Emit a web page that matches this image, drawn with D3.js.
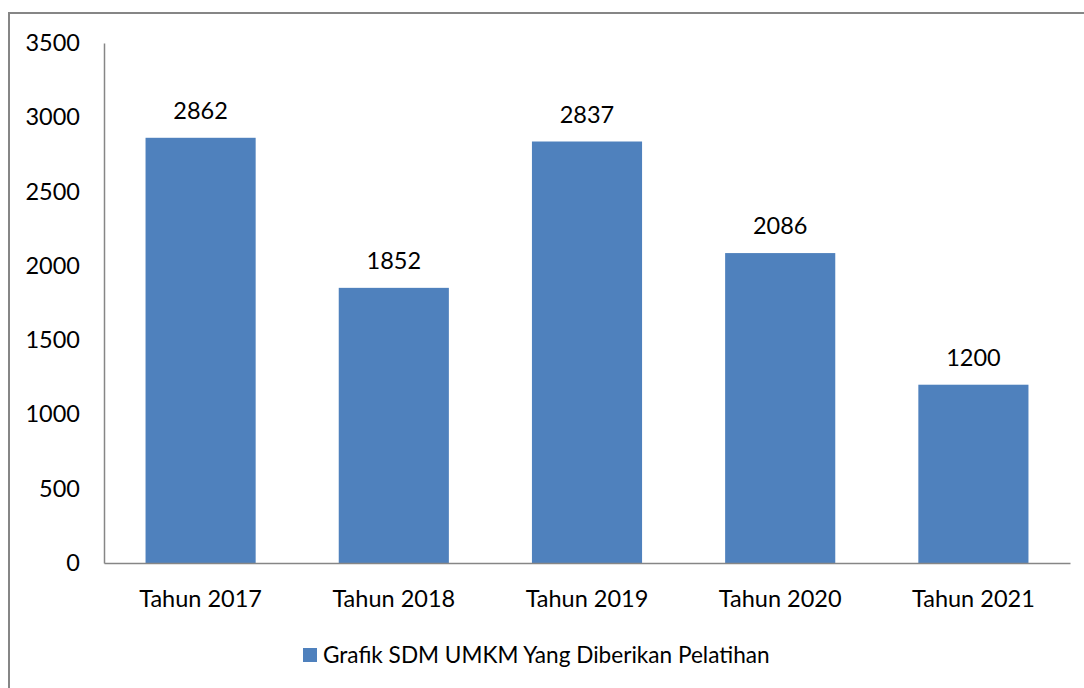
<!DOCTYPE html>
<html>
<head>
<meta charset="utf-8">
<script src="https://cdn.jsdelivr.net/npm/d3@7"></script>
<style>
  body { margin: 0; background: #fff; }
  text { font-family: Lato, "Open Sans", sans-serif; fill: #000; }
</style>
</head>
<body>
<div id="chart"></div>
<script>
// chart data
const categories = ['Tahun 2017', 'Tahun 2018', 'Tahun 2019', 'Tahun 2020', 'Tahun 2021'];
const values = [2862, 1852, 2837, 2086, 1200];
const yTicks = [0, 500, 1000, 1500, 2000, 2500, 3000, 3500];
const seriesName = 'Grafik SDM UMKM Yang Diberikan Pelatihan';

const width = 1084, height = 688;
const margin = {left: 104, right: 14, top: 43, bottom: 125};
const barColor = '#4F81BD';
const fontSize = '23.5px';

const svg = d3.select('#chart').append('svg')
    .attr('width', width)
    .attr('height', height);

// outer frame (runs off the right and bottom edges)
svg.append('rect')
    .attr('x', 9).attr('y', 13)
    .attr('width', width).attr('height', height)
    .attr('fill', 'none')
    .attr('stroke', '#868686')
    .attr('stroke-width', 2);

const x = d3.scaleBand()
    .domain(categories)
    .range([margin.left, width - margin.right])
    .paddingInner(0.43)
    .paddingOuter(0.215);

const y = d3.scaleLinear()
    .domain([0, 3500])
    .range([height - margin.bottom, margin.top]);

// y axis
const yAxis = svg.append('g')
    .attr('transform', 'translate(' + margin.left + ',0)')
    .call(d3.axisLeft(y).tickValues(yTicks).tickFormat(d3.format('d')).tickSize(0).tickPadding(24));
yAxis.select('.domain').attr('stroke', '#868686').attr('stroke-width', 1.5);
yAxis.selectAll('text').style('font-size', fontSize);

// bars
svg.selectAll('.bar')
    .data(values)
    .enter().append('rect')
    .attr('class', 'bar')
    .attr('x', (d, i) => x(categories[i]))
    .attr('y', d => y(d))
    .attr('width', x.bandwidth())
    .attr('height', d => y(0) - y(d))
    .attr('fill', barColor);

// x axis
const xAxis = svg.append('g')
    .attr('transform', 'translate(0,' + y(0) + ')')
    .call(d3.axisBottom(x).tickSize(0).tickPadding(27).tickSizeOuter(0));
xAxis.select('.domain').attr('stroke', '#868686').attr('stroke-width', 1.5);
xAxis.selectAll('text').style('font-size', fontSize);

// value labels
svg.selectAll('.val')
    .data(values)
    .enter().append('text')
    .attr('class', 'val')
    .attr('x', (d, i) => x(categories[i]) + x.bandwidth() / 2)
    .attr('y', d => y(d) - 19)
    .attr('text-anchor', 'middle')
    .style('font-size', fontSize)
    .text(d => d);

// legend
const legend = svg.append('g').attr('transform', 'translate(303,648)');
legend.append('rect')
    .attr('width', 14).attr('height', 14)
    .attr('fill', barColor);
legend.append('text')
    .attr('x', 20).attr('y', 15)
    .style('font-size', '22.6px')
    .text(seriesName);
</script>
</body>
</html>
